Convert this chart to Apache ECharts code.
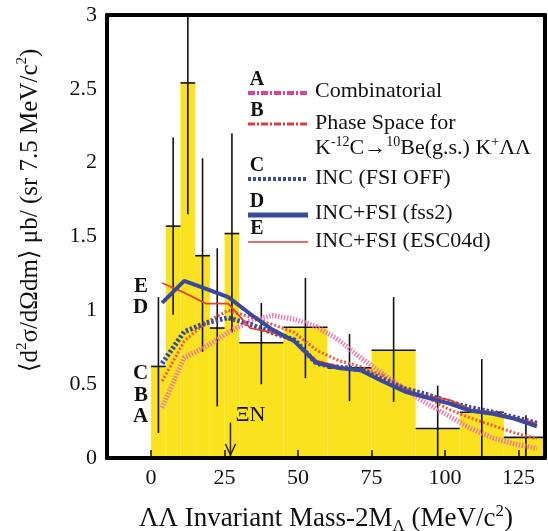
<!DOCTYPE html>
<html>
<head>
<meta charset="utf-8">
<script src="https://cdn.jsdelivr.net/npm/echarts@6/dist/echarts.min.js"></script>
<style>
  html, body { margin: 0; padding: 0; background: #fff; }
  #charts { width: 548px; height: 531px; }
</style>
</head>
<body>
<div id="charts"></div>
<script>
// histogram bins (MeV) and measured values
var binLo  = [0, 5, 10, 15, 20, 25, 30, 45, 60, 75, 90, 105, 120];
var binHi  = [5, 10, 15, 20, 25, 30, 45, 60, 75, 90, 105, 120, 135];
var counts = [0.62, 1.57, 2.54, 1.37, 0.88, 1.52, 0.78, 0.885, 0.61, 0.73, 0.2, 0.31, 0.14];
var errLow = [0.17, 0.97, 1.65, 0.72, 0.35, 0.85, 0.5, 0.54, 0.385, 0.38, -0.1, -0.05, -0.02];
var errHigh = [1.09, 2.17, 3.2, 2.03, 1.42, 2.2, 1.05, 1.22, 0.84, 1.09, 0.49, 0.67, 0.29];

// calculated spectra
var curveX = [3.75, 11.25, 18.75, 26.25, 33.75, 41.25, 48.75, 56.25, 63.75, 71.25, 78.75, 86.25, 93.75, 101.25, 108.75, 116.25, 123.75, 131.25];
var curveA = [0.34, 0.68, 0.755, 0.85, 0.93, 0.965, 0.94, 0.89, 0.8, 0.68, 0.57, 0.465, 0.37, 0.285, 0.2, 0.135, 0.095, 0.065];
var curveB = [0.52, 0.79, 0.92, 1.0, 0.955, 0.905, 0.85, 0.73, 0.66, 0.62, 0.56, 0.47, 0.41, 0.33, 0.27, 0.22, 0.17, 0.13];
var curveC = [0.64, 0.855, 0.915, 0.95, 0.905, 0.85, 0.8, 0.64, 0.615, 0.6, 0.535, 0.47, 0.43, 0.38, 0.34, 0.31, 0.275, 0.235];
var curveD = [1.05, 1.2, 1.145, 1.09, 0.975, 0.87, 0.79, 0.645, 0.61, 0.595, 0.52, 0.45, 0.41, 0.37, 0.32, 0.3, 0.265, 0.215];
var curveE = [1.185, 1.12, 1.045, 1.045, 0.88, 0.85, 0.79, 0.66, 0.62, 0.59, 0.52, 0.46, 0.42, 0.395, 0.33, 0.31, 0.27, 0.235];

var xTicks = [0, 25, 50, 75, 100, 125];
var xiThreshold = 27;   // ΞN threshold arrow
var xiArrowTop = 0.24;

var FONT = '"Liberation Serif", "DejaVu Serif", serif';
var YELLOW = '#fae21e';

function pairs(ys) {
    return curveX.map(function (x, i) { return [x, ys[i]]; });
}

// put the letter tag on the first point of a curve
function tagged(ys, tag, dy) {
    var d = pairs(ys);
    d[0] = {
        value: d[0],
        label: {
            show: true, formatter: tag, position: 'left', distance: 14, offset: [0, dy],
            fontFamily: FONT, fontSize: 21, fontWeight: 'bold', color: '#111'
        }
    };
    return d;
}

var histData = binLo.map(function (lo, i) {
    return [lo, binHi[i], counts[i], errLow[i], errHigh[i]];
});

var myChart = echarts.init(document.getElementById('charts'));

function lineSeries(name, ys, tag, dy, color, width, type, z) {
    return {
        name: name, type: 'line', data: tagged(ys, tag, dy),
        symbol: 'circle', showSymbol: true, symbolSize: 0, z: z,
        lineStyle: { color: color, width: width, type: type },
        itemStyle: { color: color }
    };
}

var legendRows = [
    { tag: 'A', y: 93, color: '#e0409a', width: 4, type: [7, 2, 2, 2], text: 'Combinatorial', ty: 91 },
    { tag: 'B', y: 124, color: '#e03c3c', width: 3, type: [7, 2, 2, 2], text: 'Phase Space for', ty: 123 },
    { tag: 'C', y: 179, color: '#3a4a9c', width: 4, type: [3, 2], text: 'INC (FSI OFF)', ty: 178 },
    { tag: 'D', y: 215, color: '#3a4a9c', width: 5, type: 'solid', text: 'INC+FSI (fss2)', ty: 213 },
    { tag: 'E', y: 242, color: '#e03c3c', width: 1.5, type: 'solid', text: 'INC+FSI (ESC04d)', ty: 241 }
];

var graphics = [];
legendRows.forEach(function (r) {
    graphics.push({
        type: 'line', z: 20,
        shape: { x1: 248, y1: r.y, x2: 308, y2: r.y },
        style: { stroke: r.color, lineWidth: r.width, lineDash: r.type === 'solid' ? null : r.type }
    });
    graphics.push({
        type: 'text', z: 20, x: 257, y: r.y - 3,
        style: { text: r.tag, font: 'bold 20px ' + FONT, fill: '#111', textAlign: 'center', textVerticalAlign: 'bottom' }
    });
    graphics.push({
        type: 'text', z: 20, x: 315, y: r.ty,
        style: { text: r.text, font: '22px ' + FONT, fill: '#111', textAlign: 'left', textVerticalAlign: 'middle' }
    });
});
graphics.push({
    type: 'text', z: 20, x: 315, y: 148,
    style: {
        text: '{a|K}{s|-12}{a|C\u2192}{s|10}{a|Be(g.s.) K}{s|+}{a|\u039b\u039b}',
        textAlign: 'left', textVerticalAlign: 'middle', fill: '#111',
        rich: {
            a: { fontFamily: FONT, fontSize: 22, lineHeight: 26, color: '#111' },
            s: { fontFamily: FONT, fontSize: 14, lineHeight: 14, verticalAlign: 'top', color: '#111' }
        }
    }
});

var option = {
    animation: false,
    backgroundColor: '#fff',
    grid: { left: 107, right: 3, top: 15, bottom: 73, containLabel: false, outerBoundsMode: 'none' },
    xAxis: [
        {
            type: 'value', min: -15, max: 134, z: 10,
            axisLine: { show: true, lineStyle: { color: '#000', width: 4 } },
            axisTick: { show: true, inside: true, length: 8, customValues: xTicks, lineStyle: { color: '#111', width: 1.5 } },
            axisLabel: { customValues: xTicks, margin: 9, fontFamily: FONT, fontSize: 22, color: '#111' },
            splitLine: { show: false },
            name: '{a|\u039b\u039b Invariant Mass-2M}{sub|\u039b}{a| (MeV/c}{sup|2}{a|)}',
            nameLocation: 'middle', nameGap: 45,
            nameTextStyle: {
                rich: {
                    a: { fontFamily: FONT, fontSize: 27, lineHeight: 32, color: '#111' },
                    sub: { fontFamily: FONT, fontSize: 17, lineHeight: 17, verticalAlign: 'bottom', color: '#111' },
                    sup: { fontFamily: FONT, fontSize: 17, lineHeight: 17, verticalAlign: 'top', color: '#111' }
                }
            }
        },
        {
            type: 'value', min: -15, max: 134, position: 'top', z: 10,
            axisLine: { show: true, onZero: false, lineStyle: { color: '#000', width: 4 } },
            axisTick: { show: false }, axisLabel: { show: false }, splitLine: { show: false }
        }
    ],
    yAxis: [
        {
            type: 'value', min: 0, max: 3, interval: 0.5, z: 10,
            axisLine: { show: true, onZero: false, lineStyle: { color: '#000', width: 4 } },
            axisTick: { show: false },
            axisLabel: { margin: 10, fontFamily: FONT, fontSize: 22, color: '#111' },
            splitLine: { show: false },
            name: '{sp|}{a|\u27e8d}{sup|2}{a|\u03c3/d\u03a9dm\u27e9 \u03bcb/ (sr 7.5 MeV/c}{sup|2}{a|)}',
            nameLocation: 'middle', nameGap: 62, nameRotate: 90,
            nameTextStyle: {
                rich: {
                    sp: { width: 52, fontSize: 25, lineHeight: 30 },
                    a: { fontFamily: FONT, fontSize: 25, lineHeight: 30, color: '#111' },
                    sup: { fontFamily: FONT, fontSize: 15, lineHeight: 15, verticalAlign: 'top', color: '#111' }
                }
            }
        },
        {
            type: 'value', min: 0, max: 3, position: 'right', z: 10,
            axisLine: { show: true, onZero: false, lineStyle: { color: '#000', width: 4 } },
            axisTick: { show: false }, axisLabel: { show: false }, splitLine: { show: false }
        }
    ],
    graphic: graphics,
    series: [
        {
            name: 'data', type: 'custom', z: 1, clip: true,
            data: histData,
            encode: { x: [0, 1], y: [2, 3, 4] },
            renderItem: function (params, api) {
                var p0 = api.coord([api.value(0), api.value(2)]);
                var p1 = api.coord([api.value(1), 0]);
                return {
                    type: 'rect',
                    shape: { x: p0[0], y: p0[1], width: p1[0] - p0[0], height: p1[1] - p0[1] },
                    style: { fill: YELLOW }
                };
            }
        },
        {
            name: 'errors', type: 'custom', z: 3, clip: true,
            data: histData,
            encode: { x: [0, 1], y: [2, 3, 4] },
            renderItem: function (params, api) {
                var lo = api.value(0), hi = api.value(1), v = api.value(2);
                var mid = (lo + hi) / 2;
                var a = api.coord([lo, v]), b = api.coord([hi, v]);
                var t = api.coord([mid, api.value(4)]), u = api.coord([mid, api.value(3)]);
                var st = { stroke: '#111', lineWidth: 1.6 };
                return {
                    type: 'group',
                    children: [
                        { type: 'line', shape: { x1: a[0], y1: a[1], x2: b[0], y2: b[1] }, style: st },
                        { type: 'line', shape: { x1: t[0], y1: t[1], x2: u[0], y2: u[1] }, style: st }
                    ]
                };
            }
        },
        lineSeries('A', curveA, 'A', 9, 'rgba(238,110,175,0.9)', 5, [1.5, 1.5], 4),
        lineSeries('B', curveB, 'B', 14, '#ee5a3c', 3, [2, 2], 4),
        lineSeries('C', curveC, 'C', 10, '#3a4a9a', 5, [2.5, 2], 5),
        lineSeries('E', curveE, 'E', 4, '#e8402e', 1.8, 'solid', 6),
        lineSeries('D', curveD, 'D', 5, '#3949a0', 4, 'solid', 7),
        {
            name: 'threshold', type: 'custom', z: 8, clip: false,
            data: [[xiThreshold, xiArrowTop]],
            renderItem: function (params, api) {
                var top = api.coord([api.value(0), api.value(1)]);
                var bot = api.coord([api.value(0), 0]);
                var st = { stroke: '#222', lineWidth: 1.5 };
                return {
                    type: 'group',
                    children: [
                        { type: 'line', shape: { x1: top[0], y1: top[1], x2: bot[0], y2: bot[1] - 2 }, style: st },
                        { type: 'polyline', shape: { points: [[bot[0] - 5, bot[1] - 14], [bot[0], bot[1] - 3], [bot[0] + 5, bot[1] - 14]] }, style: { stroke: '#222', lineWidth: 1.5, fill: null } },
                        { type: 'text', x: top[0] + 20, y: top[1] - 7, style: { text: '\u039eN', font: '22px ' + FONT, fill: '#111', textAlign: 'center', textVerticalAlign: 'middle' } }
                    ]
                };
            }
        }
    ]
};

myChart.setOption(option);
</script>
</body>
</html>
